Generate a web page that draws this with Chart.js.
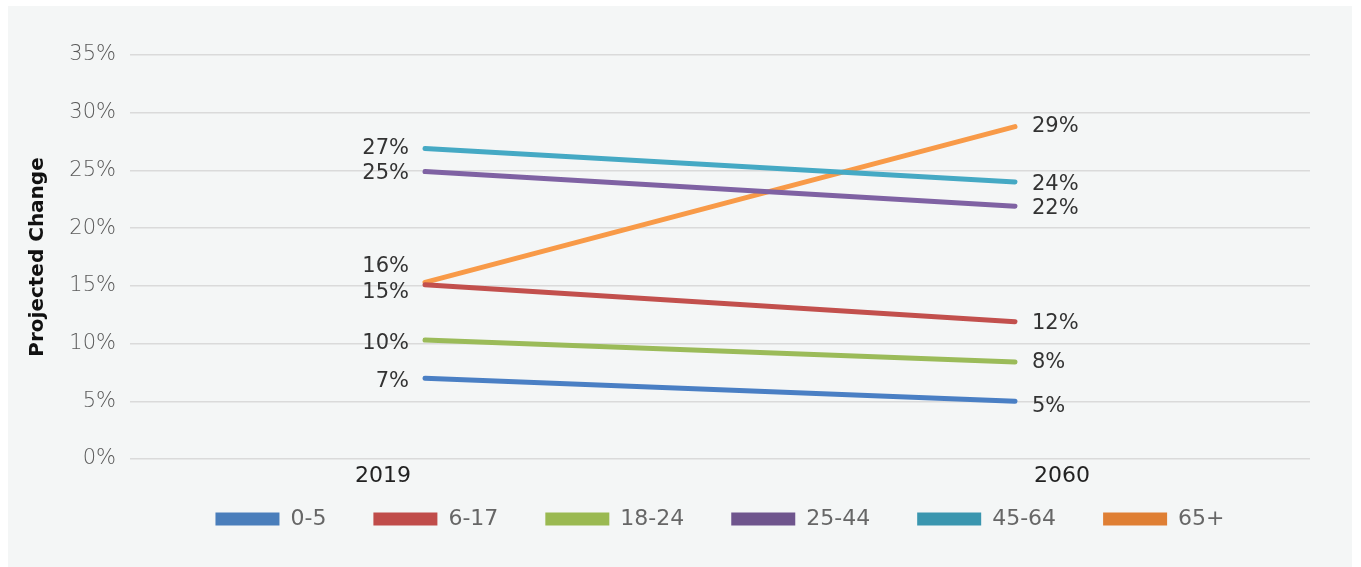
<!DOCTYPE html>
<html><head><meta charset="utf-8">
<script src="https://cdn.jsdelivr.net/npm/chart.js@4.4.1/dist/chart.umd.min.js"></script>
<style>
html,body{margin:0;padding:0;background:#fff;width:1361px;height:567px;overflow:hidden}
#panel{position:absolute;left:8px;top:6px;width:1344px;height:561px;background:#f4f6f6}
canvas{display:block}
</style></head><body>
<div id="panel"><canvas id="c" width="1344" height="561"></canvas></div>
<script>
// ---- data ----
const categories = ['2019', '2060'];
const seriesNames = ['0-5', '6-17', '18-24', '25-44', '45-64', '65+'];
const values0to5   = [7.0, 5.0];
const values6to17  = [15.1, 11.9];
const values18to24 = [10.3, 8.4];
const values25to44 = [24.9, 21.9];
const values45to64 = [26.9, 24.0];
const values65plus = [15.3, 28.8];
const labels0to5   = ['7%', '5%'];
const labels6to17  = ['15%', '12%'];
const labels18to24 = ['10%', '8%'];
const labels25to44 = ['25%', '22%'];
const labels45to64 = ['27%', '24%'];
const labels65plus = ['16%', '29%'];
const yTickValues = [0, 5, 10, 15, 20, 25, 30, 35];

// ---- styling ----
const lineColors   = ['#4a7fc4', '#c2504d', '#9bbb59', '#7f62a3', '#45a9c4', '#f89a48'];
const legendColors = ['#4a7ebb', '#c04c4a', '#9ab951', '#6f558d', '#3a96af', '#df7f34'];
const labelDy = [[3, 5], [8, 2], [3, 1], [2, 2], [0, 3], [-16, 0]];
const xLabelShift = [-42, 47];
const FONT = '"DejaVu Sans", sans-serif';

const seriesValues = [values0to5, values6to17, values18to24, values25to44, values45to64, values65plus];
const seriesLabels = [labels0to5, labels6to17, labels18to24, labels25to44, labels45to64, labels65plus];

const datasets = seriesNames.map((n, i) => ({
  label: n,
  data: seriesValues[i],
  pointText: seriesLabels[i],
  borderColor: lineColors[i],
  backgroundColor: legendColors[i],
  borderWidth: 5,
  borderCapStyle: 'round',
  pointRadius: 0,
  tension: 0
}));

const labelPlugin = {
  id: 'pointLabels',
  afterDatasetsDraw(chart) {
    const ctx = chart.ctx;
    ctx.save();
    ctx.font = '21px ' + FONT;
    ctx.fillStyle = '#333';
    ctx.textBaseline = 'middle';
    chart.data.datasets.forEach((ds, i) => {
      const meta = chart.getDatasetMeta(i);
      meta.data.forEach((pt, j) => {
        ctx.textAlign = j === 0 ? 'right' : 'left';
        ctx.fillText(ds.pointText[j], pt.x + (j === 0 ? -16 : 17), pt.y + labelDy[i][j]);
      });
    });
    const xs = chart.scales.x;
    ctx.font = '22px ' + FONT;
    ctx.fillStyle = '#222';
    ctx.textAlign = 'center';
    categories.forEach((c, j) => {
      ctx.fillText(c, xs.getPixelForValue(j) + xLabelShift[j], chart.chartArea.bottom + 17);
    });
    ctx.restore();
  }
};

new Chart(document.getElementById('c'), {
  type: 'line',
  data: { labels: categories, datasets },
  plugins: [labelPlugin],
  options: {
    responsive: false,
    animation: false,
    devicePixelRatio: 1,
    layout: { padding: { left: 18, right: 42, top: 49, bottom: 27 } },
    plugins: {
      tooltip: { enabled: false },
      legend: {
        position: 'bottom',
        fullSize: false,
        labels: {
          boxWidth: 64, boxHeight: 13, padding: 47,
          color: '#666',
          font: { family: FONT, size: 22 },
          generateLabels: (chart) => chart.data.datasets.map((ds, i) => ({
            text: ds.label, fillStyle: legendColors[i], strokeStyle: legendColors[i],
            lineWidth: 0, hidden: false, datasetIndex: i, fontColor: '#666'
          }))
        }
      }
    },
    scales: {
      x: {
        offset: true,
        grid: { display: false },
        border: { display: false },
        ticks: { display: false },
        afterFit: (s) => { s.height = 2; }
      },
      y: {
        min: 0, max: 35,
        afterBuildTicks: (s) => { s.ticks = yTickValues.map(v => ({ value: v })); },
        ticks: {
          callback: (v) => v + '%',
          color: '#5a5a5a',
          padding: 14,
          font: { family: FONT, size: 21, weight: 300 }
        },
        grid: { color: '#dadada', lineWidth: 1.5, drawTicks: false },
        border: { display: false },
        title: {
          display: true, text: 'Projected Change', color: '#111',
          font: { family: FONT, size: 20, weight: 'bold' }, padding: 0
        },
        afterFit: (s) => { s.width = 104; }
      }
    }
  }
});
</script>
</body></html>
